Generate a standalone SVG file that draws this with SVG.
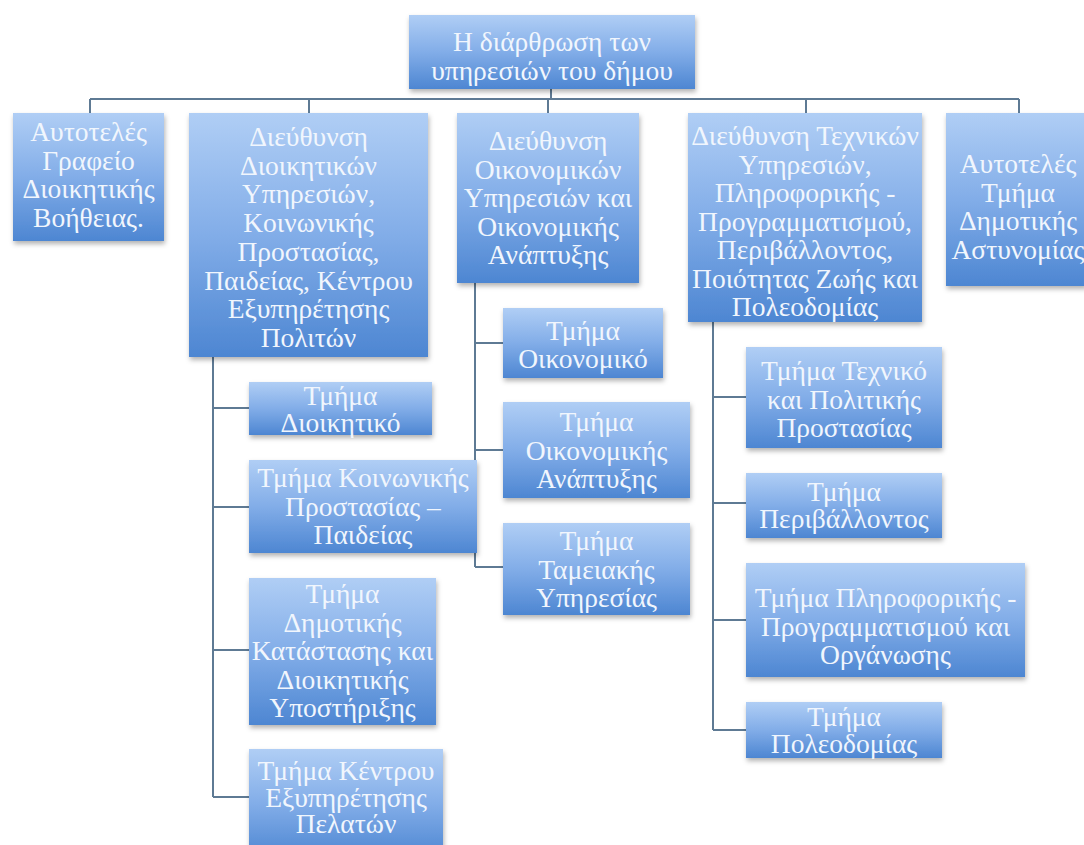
<svg xmlns="http://www.w3.org/2000/svg" width="1084" height="845" viewBox="0 0 1084 845">
<defs>
<linearGradient id="g" x1="0" y1="0" x2="0" y2="1">
<stop offset="0" stop-color="#b0cef5"/>
<stop offset="0.5" stop-color="#82ade8"/>
<stop offset="1" stop-color="#4d86d2"/>
</linearGradient>
<filter id="sh" x="-10%" y="-10%" width="125%" height="130%">
<feDropShadow dx="1" dy="3" stdDeviation="2.5" flood-color="#000" flood-opacity="0.3"/>
</filter>
</defs>
<style>
.b{fill:url(#g);filter:url(#sh);}
.t{font-family:"Liberation Serif","Times New Roman",serif;font-size:27.5px;fill:#f1f6fd;text-anchor:middle;}
.c{stroke:#5e7a94;stroke-width:2;fill:none;}
</style>
<rect width="1084" height="845" fill="#ffffff"/>
<g id="connectors">
<path class="c" d="M551 89V99M90 99H1019M90 99V113M309 99V113M548 99V113M806 99V113M1019 99V113"/>
<path class="c" d="M213 357V797M213 408H249M213 507H249M213 650H249M213 797H249"/>
<path class="c" d="M475 283V567M475 343H503M475 450H503M475 567H503"/>
<path class="c" d="M713 322V730M713 397H746M713 503H746M713 620H746M713 730H746"/>
</g>
<g id="root">
<rect class="b" x="409" y="15" width="286" height="74"/>
<text class="t" x="552" y="51">Η διάρθρωση των</text>
<text class="t" x="552" y="80">υπηρεσιών του δήμου</text>
</g>
<g id="n1">
<rect class="b" x="13" y="113" width="151" height="128"/>
<text class="t" x="88.5" y="141">Αυτοτελές</text>
<text class="t" x="88.5" y="169.5">Γραφείο</text>
<text class="t" x="88.5" y="198">Διοικητικής</text>
<text class="t" x="88.5" y="226.5">Βοήθειας.</text>
</g>
<g id="n2">
<rect class="b" x="189" y="113" width="239" height="244"/>
<text class="t" x="308.5" y="146">Διεύθυνση</text>
<text class="t" x="308.5" y="174.7">Διοικητικών</text>
<text class="t" x="308.5" y="203.4">Υπηρεσιών,</text>
<text class="t" x="308.5" y="232.1">Κοινωνικής</text>
<text class="t" x="308.5" y="260.8">Προστασίας,</text>
<text class="t" x="308.5" y="289.5">Παιδείας, Κέντρου</text>
<text class="t" x="308.5" y="318.2">Εξυπηρέτησης</text>
<text class="t" x="308.5" y="346.9">Πολιτών</text>
</g>
<g id="n3">
<rect class="b" x="457" y="113" width="182" height="170"/>
<text class="t" x="548" y="150">Διεύθυνση</text>
<text class="t" x="548" y="178.5">Οικονομικών</text>
<text class="t" x="548" y="207">Υπηρεσιών και</text>
<text class="t" x="548" y="235.5">Οικονομικής</text>
<text class="t" x="548" y="264">Ανάπτυξης</text>
</g>
<g id="n4">
<rect class="b" x="688" y="113" width="234" height="209"/>
<text class="t" x="805" y="145">Διεύθυνση Τεχνικών</text>
<text class="t" x="805" y="173.5">Υπηρεσιών,</text>
<text class="t" x="805" y="202">Πληροφορικής -</text>
<text class="t" x="805" y="230.5">Προγραμματισμού,</text>
<text class="t" x="805" y="259">Περιβάλλοντος,</text>
<text class="t" x="805" y="287.5">Ποιότητας Ζωής και</text>
<text class="t" x="805" y="316">Πολεοδομίας</text>
</g>
<g id="n5">
<rect class="b" x="946" y="113" width="140" height="173"/>
<text class="t" x="1018" y="173">Αυτοτελές</text>
<text class="t" x="1018" y="201.5">Τμήμα</text>
<text class="t" x="1018" y="230">Δημοτικής</text>
<text class="t" x="1018" y="258.5">Αστυνομίας</text>
</g>
<g id="d1">
<rect class="b" x="249" y="382" width="183" height="53"/>
<text class="t" x="340.5" y="405">Τμήμα</text>
<text class="t" x="340.5" y="432">Διοικητικό</text>
</g>
<g id="d2">
<rect class="b" x="249" y="460" width="228" height="93"/>
<text class="t" x="363" y="487">Τμήμα Κοινωνικής</text>
<text class="t" x="363" y="515.5">Προστασίας –</text>
<text class="t" x="363" y="544">Παιδείας</text>
</g>
<g id="d3">
<rect class="b" x="249" y="578" width="187" height="147"/>
<text class="t" x="342.5" y="603">Τμήμα</text>
<text class="t" x="342.5" y="631.5">Δημοτικής</text>
<text class="t" x="342.5" y="660">Κατάστασης και</text>
<text class="t" x="342.5" y="688.5">Διοικητικής</text>
<text class="t" x="342.5" y="717">Υποστήριξης</text>
</g>
<g id="d4">
<rect class="b" x="249" y="749" width="194" height="110"/>
<text class="t" x="346" y="780">Τμήμα Κέντρου</text>
<text class="t" x="346" y="807">Εξυπηρέτησης</text>
<text class="t" x="346" y="833">Πελατών</text>
</g>
<g id="o1">
<rect class="b" x="503" y="308" width="160" height="70"/>
<text class="t" x="583" y="340">Τμήμα</text>
<text class="t" x="583" y="368">Οικονομικό</text>
</g>
<g id="o2">
<rect class="b" x="503" y="402" width="187" height="96"/>
<text class="t" x="596.5" y="431">Τμήμα</text>
<text class="t" x="596.5" y="459.5">Οικονομικής</text>
<text class="t" x="596.5" y="488">Ανάπτυξης</text>
</g>
<g id="o3">
<rect class="b" x="503" y="523" width="187" height="92"/>
<text class="t" x="596.5" y="550">Τμήμα</text>
<text class="t" x="596.5" y="578.5">Ταμειακής</text>
<text class="t" x="596.5" y="607">Υπηρεσίας</text>
</g>
<g id="p1">
<rect class="b" x="746" y="347" width="196" height="101"/>
<text class="t" x="844" y="380">Τμήμα Τεχνικό</text>
<text class="t" x="844" y="408.5">και Πολιτικής</text>
<text class="t" x="844" y="437">Προστασίας</text>
</g>
<g id="p2">
<rect class="b" x="746" y="473" width="196" height="65"/>
<text class="t" x="844" y="501">Τμήμα</text>
<text class="t" x="844" y="528">Περιβάλλοντος</text>
</g>
<g id="p3">
<rect class="b" x="746" y="563" width="279" height="114"/>
<text class="t" x="885.5" y="607">Τμήμα Πληροφορικής -</text>
<text class="t" x="885.5" y="635.5">Προγραμματισμού και</text>
<text class="t" x="885.5" y="664">Οργάνωσης</text>
</g>
<g id="p4">
<rect class="b" x="746" y="702" width="196" height="56"/>
<text class="t" x="844" y="726">Τμήμα</text>
<text class="t" x="844" y="753">Πολεοδομίας</text>
</g>
</svg>
